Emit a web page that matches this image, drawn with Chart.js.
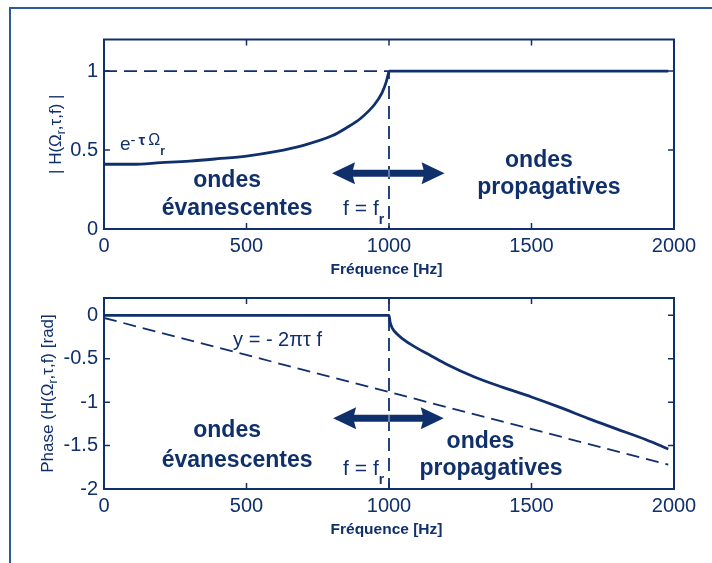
<!DOCTYPE html>
<html lang="fr">
<head>
<meta charset="UTF-8">
<title>Module et phase de H(Ωr, τ, f)</title>
<script src="https://cdn.jsdelivr.net/npm/chart.js"></script>
<style>
  body { margin: 0; background: #fff; }
  #page { position: relative; width: 712px; height: 563px; overflow: hidden; background: #fff; }
  .frame {
    position: absolute; left: 9px; top: 7px; right: -10px; bottom: -10px;
    border-left: 2px solid #2c5a9a; border-top: 2px solid #2c5a9a;
  }
  canvas { position: absolute; left: 0; }
  #magChart { top: 0; }
  #phaseChart { top: 280px; }
</style>
</head>
<body>
<div id="page">
  <div class="frame"></div>
  <canvas id="magChart" width="712" height="280"></canvas>
  <canvas id="phaseChart" width="712" height="283"></canvas>
</div>
<script>
// axis ticks
const freqTicks = [0, 500, 1000, 1500, 2000];
const magTicks = [0, 0.5, 1];
const phaseTicks = [-2, -1.5, -1, -0.5, 0];

// cut-off frequency f_r [Hz]
const fr = 1000;

// |H| below f_r (evanescent waves)
const magLowF = [0, 100, 200, 300, 400, 500, 600, 700, 800, 850, 900, 950, 975, 990, 1000];
const magLowV = [0.41, 0.41, 0.42, 0.43, 0.445, 0.462, 0.49, 0.53, 0.59, 0.64, 0.70, 0.79, 0.86, 0.93, 1.0];
// |H| above f_r (propagating waves)
const magHighF = [1000, 1980];
const magHighV = [1.0, 1.0];

// phase of H : zero below f_r, then decreasing
const phaseF = [0, 1000, 1004, 1012, 1030, 1060, 1100, 1150, 1200, 1300, 1400, 1500, 1600, 1700, 1800, 1900, 1980];
const phaseV = [0, 0, -0.08, -0.15, -0.22, -0.30, -0.38, -0.47, -0.56, -0.71, -0.83, -0.94, -1.06, -1.19, -1.31, -1.43, -1.54];

// pure delay y = -2*pi*tau*f
const delayF = [0, 1980];
const delayV = [-0.03, -1.72];

// dashed guides: |H| = 1 and f = f_r
const magGuideF = [0, fr, fr];
const magGuideV = [1, 1, 0];
const phaseGuideF = [fr, fr];
const phaseGuideV = [0.2, -2];

const NAVY = '#10306c';
const FONT = '"Liberation Sans", Arial, Helvetica, sans-serif';
const f = (size, weight) => `${weight || 'normal'} ${size}px ${FONT}`;

const pts = (xs, ys) => xs.map((x, i) => ({ x, y: ys[i] }));

function richWidth(ctx, parts) {
  let w = 0;
  for (const p of parts) { ctx.font = p.font; w += ctx.measureText(p.t).width + (p.gap || 0); }
  return w;
}

function drawRich(ctx, parts, x, y, align) {
  let cx = align === 'center' ? x - richWidth(ctx, parts) / 2 : x;
  ctx.textAlign = 'left';
  ctx.textBaseline = 'alphabetic';
  for (const p of parts) {
    ctx.font = p.font;
    ctx.fillText(p.t, cx, y + (p.dy || 0));
    cx += ctx.measureText(p.t).width + (p.gap || 0);
  }
}

function drawArrow(ctx, x1, x2, y) {
  const hl = 23, hw = 11, sw = 3.5;
  ctx.beginPath();
  ctx.moveTo(x1, y);
  ctx.lineTo(x1 + hl, y - hw);
  ctx.lineTo(x1 + hl - 2, y - sw);
  ctx.lineTo(x2 - hl + 2, y - sw);
  ctx.lineTo(x2 - hl, y - hw);
  ctx.lineTo(x2, y);
  ctx.lineTo(x2 - hl, y + hw);
  ctx.lineTo(x2 - hl + 2, y + sw);
  ctx.lineTo(x1 + hl - 2, y + sw);
  ctx.lineTo(x1 + hl, y + hw);
  ctx.closePath();
  ctx.fill();
}

// box, inward ticks, arrows, labels and axis titles (matlab-like look)
const figurePlugin = {
  id: 'figure',
  afterDatasetsDraw(chart, args, opts) {
    const { ctx, chartArea: a, scales: { x, y } } = chart;
    ctx.save();
    ctx.strokeStyle = NAVY;
    ctx.fillStyle = NAVY;
    ctx.lineWidth = 2;
    ctx.strokeRect(a.left, a.top, a.right - a.left, a.bottom - a.top);

    ctx.lineWidth = 1.5;
    ctx.beginPath();
    x.ticks.forEach(t => {
      const px = x.getPixelForValue(t.value);
      ctx.moveTo(px, a.bottom); ctx.lineTo(px, a.bottom - 6);
      ctx.moveTo(px, a.top); ctx.lineTo(px, a.top + 6);
    });
    y.ticks.forEach(t => {
      const py = y.getPixelForValue(t.value);
      ctx.moveTo(a.left, py); ctx.lineTo(a.left + 6, py);
      ctx.moveTo(a.right, py); ctx.lineTo(a.right - 6, py);
    });
    ctx.stroke();

    (opts.arrows || []).forEach(ar => {
      const py = y.getPixelForValue(ar.y);
      drawArrow(ctx, x.getPixelForValue(ar.from), x.getPixelForValue(ar.to), py);
      // the f = f_r guide shows through the shaft as a thin light line
      const sx = x.getPixelForValue(fr);
      ctx.save();
      ctx.strokeStyle = '#b9c6dc';
      ctx.lineWidth = 1;
      ctx.beginPath();
      ctx.moveTo(sx, py - 4); ctx.lineTo(sx, py + 4);
      ctx.stroke();
      ctx.restore();
    });

    (opts.notes || []).forEach(n => {
      drawRich(ctx, n.parts, x.getPixelForValue(n.x), y.getPixelForValue(n.y), n.align);
    });

    const xt = opts.xTitle;
    drawRich(ctx, xt.parts, (a.left + a.right) / 2 + xt.dx, a.bottom + xt.dy, 'center');

    const yt = opts.yTitle;
    ctx.translate(yt.x, (a.top + a.bottom) / 2);
    ctx.rotate(-Math.PI / 2);
    drawRich(ctx, yt.parts, 0, 0, 'center');
    ctx.restore();
  }
};

const xTitle = { parts: [{ t: 'Fréquence [Hz]', font: f(15.5, 'bold') }], dx: -2.5, dy: 45 };

function makeOptions(yMin, yMax, yTicks, pad, xAxisHeight, fig) {
  return {
    responsive: false,
    animation: false,
    events: [],
    layout: { padding: pad },
    plugins: { legend: { display: false }, tooltip: { enabled: false }, figure: fig },
    elements: { point: { radius: 0 } },
    scales: {
      x: {
        type: 'linear', min: 0, max: 2000,
        afterBuildTicks: s => { s.ticks = freqTicks.map(v => ({ value: v })); },
        afterFit: s => { s.height = xAxisHeight; },
        grid: { display: false, drawTicks: false },
        border: { display: false },
        ticks: { color: NAVY, font: { family: FONT, size: 20 }, padding: 5, maxRotation: 0, callback: v => String(v) }
      },
      y: {
        type: 'linear', min: yMin, max: yMax,
        afterBuildTicks: s => { s.ticks = yTicks.map(v => ({ value: v })); },
        afterFit: s => { s.width = 104; },
        grid: { display: false, drawTicks: false },
        border: { display: false },
        ticks: { color: NAVY, font: { family: FONT, size: 20 }, padding: 6, callback: v => String(v) }
      }
    }
  };
}

const solid = { borderColor: NAVY, borderWidth: 2.8, fill: false, cubicInterpolationMode: 'monotone' };
const dashed = { borderColor: NAVY, borderWidth: 1.8, borderDash: [13, 7], fill: false, tension: 0 };

const bigText = s => [{ t: s, font: f(23, 'bold') }];

new Chart(document.getElementById('magChart'), {
  type: 'line',
  data: {
    datasets: [
      { ...dashed, data: pts(magGuideF, magGuideV) },
      { ...solid, data: pts(magLowF, magLowV) },
      { ...solid, data: pts(magHighF, magHighV) }
    ]
  },
  options: makeOptions(0, 1.2, magTicks, { left: 0, right: 38, top: 39.5, bottom: 0 }, 51, {
    xTitle,
    yTitle: { x: 61, parts: [{ t: '| H(Ω', font: f(17) }, { t: 'r', font: f(12), dy: 4 }, { t: ',τ,f) |', font: f(17) }] },
    arrows: [{ from: 800, to: 1195, y: 0.353 }],
    notes: [
      { x: 56, y: 0.5, parts: [
        { t: 'e', font: f(19) },
        { t: '-', font: f(15), dy: -5, gap: 3 },
        { t: 'τ', font: f(15, 'bold'), dy: -5, gap: 3 },
        { t: 'Ω', font: f(16), dy: -5 },
        { t: 'r', font: f(12, 'bold'), dy: 5 }
      ] },
      { x: 432, y: 0.266, align: 'center', parts: bigText('ondes') },
      { x: 467, y: 0.089, align: 'center', parts: bigText('évanescentes') },
      { x: 1526, y: 0.392, align: 'center', parts: bigText('ondes') },
      { x: 1561, y: 0.2215, align: 'center', parts: bigText('propagatives') },
      { x: 839, y: 0.089, parts: [{ t: 'f = f', font: f(21) }, { t: 'r', font: f(14, 'bold'), dy: 9 }] }
    ]
  }),
  plugins: [figurePlugin]
});

new Chart(document.getElementById('phaseChart'), {
  type: 'line',
  data: {
    datasets: [
      { ...dashed, data: pts(phaseGuideF, phaseGuideV) },
      { ...dashed, data: pts(delayF, delayV) },
      { ...solid, data: pts(phaseF, phaseV) }
    ]
  },
  options: makeOptions(-2, 0.2, phaseTicks, { left: 0, right: 38, top: 17.5, bottom: 0 }, 74, {
    xTitle,
    yTitle: { x: 53, parts: [{ t: 'Phase (H(Ω', font: f(17) }, { t: 'r', font: f(12), dy: 4 }, { t: ',τ,f) [rad]', font: f(17) }] },
    arrows: [{ from: 804, to: 1192, y: -1.184 }],
    notes: [
      { x: 453, y: -0.356, parts: [{ t: 'y = - 2πτ f', font: f(20) }] },
      { x: 432, y: -1.402, align: 'center', parts: bigText('ondes') },
      { x: 467, y: -1.747, align: 'center', parts: bigText('évanescentes') },
      { x: 1321, y: -1.529, align: 'center', parts: bigText('ondes') },
      { x: 1358, y: -1.839, align: 'center', parts: bigText('propagatives') },
      { x: 839, y: -1.839, parts: [{ t: 'f = f', font: f(21) }, { t: 'r', font: f(14, 'bold'), dy: 9 }] }
    ]
  }),
  plugins: [figurePlugin]
});
</script>
</body>
</html>
